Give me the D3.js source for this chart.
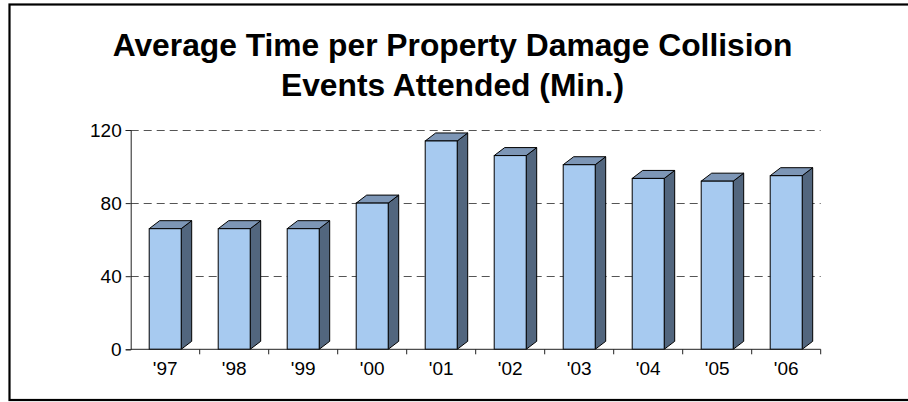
<!DOCTYPE html>
<html>
<head>
<meta charset="utf-8">
<script src="https://cdn.jsdelivr.net/npm/d3@7"></script>
<style>
body{margin:0;background:#fff;}
svg{display:block;}
text{font-family:"Liberation Sans",Arial,sans-serif;}
</style>
</head>
<body>
<script>
const categories = ["'97","'98","'99","'00","'01","'02","'03","'04","'05","'06"];
const values = [66, 66, 66, 80, 114, 106, 101, 93.5, 92, 95];
const yTicks = [0, 40, 80, 120];
const titleLines = ["Average Time per Property Damage Collision", "Events Attended (Min.)"];

(function () {
const W = 908, H = 402;
const svg = d3.select("body").append("svg").attr("width", W).attr("height", H);

svg.append("rect").attr("x", 9.5).attr("y", 4.5).attr("width", 905).attr("height", 395.5)
  .attr("fill", "#fff").attr("stroke", "#000").attr("stroke-width", 2.2);

const pLeft = 130.7, pRight = 820.7, pTop = 130, pBottom = 349.3;
const x = d3.scaleBand().domain(categories).range([pLeft, pRight]).paddingInner(0).paddingOuter(0);
const y = d3.scaleLinear().domain([0, 120]).range([pBottom, pTop]);

// gridlines
svg.append("g").selectAll("line").data(yTicks.filter(d => d > 0)).join("line")
  .attr("x1", pLeft).attr("x2", pRight)
  .attr("y1", d => Math.round(y(d)) + 0.5).attr("y2", d => Math.round(y(d)) + 0.5)
  .attr("stroke", "#555").attr("stroke-width", 1).attr("stroke-dasharray", "8,5");

// bars
const fw = 32, dx = 10.5, dy = 8;
const bars = svg.append("g").selectAll("g").data(categories.map((c, i) => ({c, v: values[i]}))).join("g");
bars.each(function(d) {
  const g = d3.select(this);
  const x0 = x(d.c) + x.bandwidth() / 2 - fw / 2, x1 = x0 + fw;
  const yt = y(d.v), yb = y(0);
  g.append("path").attr("d", `M${x1},${yb}L${x1 + dx},${yb - dy}L${x1 + dx},${yt - dy}L${x1},${yt}Z`)
    .attr("fill", "#52667e").attr("stroke", "#000").attr("stroke-width", 1).attr("stroke-linejoin", "round");
  g.append("path").attr("d", `M${x0},${yt}L${x0 + dx},${yt - dy}L${x1 + dx},${yt - dy}L${x1},${yt}Z`)
    .attr("fill", "#7d96b6").attr("stroke", "#000").attr("stroke-width", 1).attr("stroke-linejoin", "round");
  g.append("rect").attr("x", x0).attr("y", yt).attr("width", fw).attr("height", yb - yt)
    .attr("fill", "#a7caf0").attr("stroke", "#000").attr("stroke-width", 1);
});

// axes
const yAxis = d3.axisLeft(y).tickValues(yTicks).tickSize(5).tickPadding(4);
const gy = svg.append("g").attr("transform", `translate(${pLeft},0)`).call(yAxis);
gy.select(".domain").attr("stroke", "#222");
gy.selectAll(".tick line").attr("stroke", "#222");
gy.selectAll("text").attr("font-size", 19).attr("fill", "#000").attr("font-family", "Liberation Sans, Arial, sans-serif");

const xAxis = d3.axisBottom(x).tickSize(0).tickPadding(12);
const gx = svg.append("g").attr("transform", `translate(0,${pBottom})`).call(xAxis);
gx.select(".domain").attr("stroke", "#222").attr("d", `M${pLeft},0H${pRight}`);
gx.selectAll("text").attr("font-size", 19).attr("fill", "#000").attr("font-family", "Liberation Sans, Arial, sans-serif");
gx.append("g").selectAll("line").data(categories.map(c => x(c) + x.bandwidth())).join("line")
  .attr("x1", d => d).attr("x2", d => d).attr("y1", 0).attr("y2", 5).attr("stroke", "#222");

// title
const tg = svg.append("g").attr("transform", "translate(452.5,0)");
const t = tg.selectAll("text").data(titleLines).join("text")
  .attr("x", 0).attr("y", (d, i) => 56 + i * 40)
  .attr("text-anchor", "middle").attr("font-weight", "bold").attr("font-size", 28)
  .text(d => d);
const natural = t.nodes()[0].getComputedTextLength();
t.attr("font-size", 28 * 680 / natural);
})();
</script>
</body>
</html>
